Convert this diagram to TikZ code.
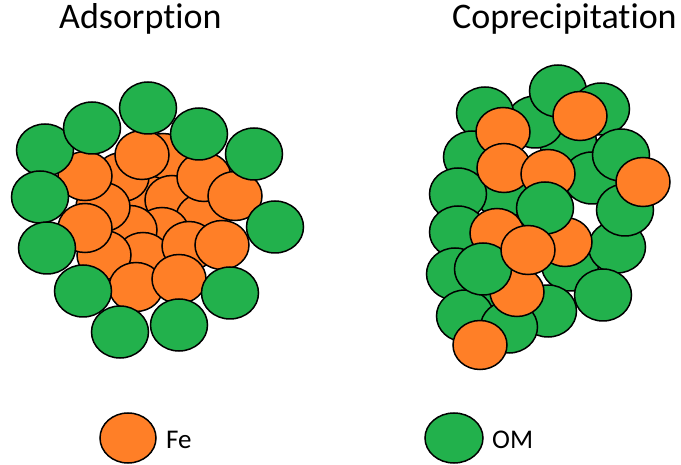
\documentclass[tikz,border=0pt]{standalone}
\usepackage{fontspec}
\setmainfont{Carlito}[Ligatures={NoCommon}]
\definecolor{feorange}{HTML}{FF7F27}
\definecolor{omgreen}{HTML}{22B14C}
\tikzset{
  festyle/.style={draw=black, line width=1.5pt, fill=feorange},
  omstyle/.style={draw=black, line width=1.5pt, fill=omgreen},
  titletext/.style={anchor=base west, inner sep=0pt, font=\fontsize{36}{40}\selectfont},
  legtext/.style={anchor=base west, inner sep=0pt, font=\fontsize{27}{32}\selectfont},
}
\newcommand\fecirc[1]{\draw[festyle] #1 ellipse [x radius=27pt, y radius=24.5pt];}
\newcommand\omcirc[1]{\draw[omstyle] #1 ellipse [x radius=28.5pt, y radius=26pt];}
\begin{document}
\begin{tikzpicture}[x=1pt,y=-1pt]
\useasboundingbox (0,0) rectangle (681,465);
% titles
\node[titletext] (t1) at (59,29) {Adsorption};
\node[titletext] (t2) at (452,29) {Coprecipitation};
% ---------- Adsorption ----------
\foreach \p in {(163,158),(147,200),(172,200),(203,218),(162,232),(130,230),(122,177),(103,207),(143,257),(104,255),(85,228),(85,176),(189,246),(136,287),(179,279),(222,245),(204,177),(235,196),(142,155)}
  {\fecirc{\p}}
\foreach \p in {(45,150),(40,197),(47,248),(83,291),(120,332),(179,325),(230,293),(275,227),(254,154),(199,134),(92,128),(148,108)}
  {\omcirc{\p}}
% ---------- Coprecipitation ----------
\foreach \p in {(568,142),(592,178),(503,192),(570,265),(495,288),(535,122),(558,91),(601,109),(485,113),(621,155),(472,157),(458,194),(458,232),(455,274),(465,316),(548,311),(509,327),(617,247),(625,210),(603,295)}
  {\omcirc{\p}}
\foreach \p in {(580,116),(503,132),(504,168),(548,174),(643,182),(497,233),(565,242)}
  {\fecirc{\p}}
\omcirc{(545,208)}
\fecirc{(517,292)}
\omcirc{(483,269)}
\fecirc{(528,250)}
\fecirc{(480,345)}
% ---------- Legend ----------
\draw[festyle] (128,438) ellipse [x radius=28pt, y radius=25pt];
\node[legtext] (lfe) at (166,449) {Fe};
\draw[omstyle] (454,438) ellipse [x radius=29pt, y radius=25pt];
\node[legtext] (lom) at (492,449) {OM};
\end{tikzpicture}
\end{document}
